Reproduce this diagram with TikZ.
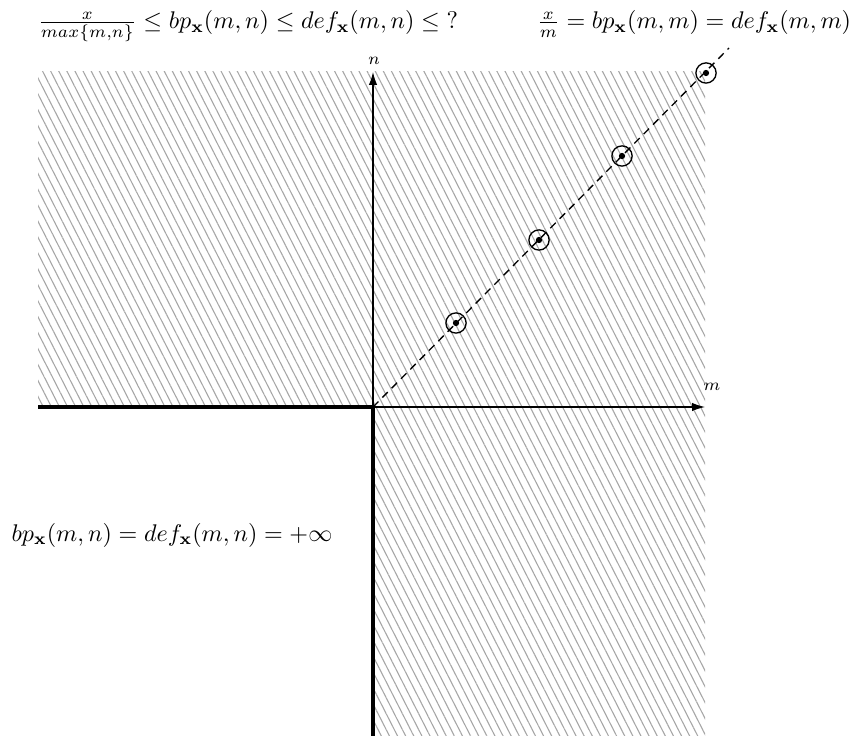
\documentclass[tikz,border=0pt]{standalone}
\usetikzlibrary{patterns.meta,arrows.meta}
\begin{document}
\begin{tikzpicture}[x=0.415pt,y=-0.415pt,
  hatch/.style={pattern={Lines[angle=-63,distance=3.0pt,line width=0.45pt]},pattern color=black!35},
  axis/.style={line width=0.45pt,-{Latex[length=5.3pt,width=3.4pt]}},
  boundary/.style={line width=1.7pt},
  diag/.style={dashed,line width=0.55pt,dash pattern=on 3.2pt off 2.3pt},
  ring/.style={circle,draw,line width=0.55pt,minimum size=8.4pt,inner sep=0pt},
  pt/.style={circle,fill,minimum size=2.6pt,inner sep=0pt}]
\useasboundingbox (0,0) rectangle (852,736);
% hatched regions
\fill[hatch] (38,72) rectangle (705,407);
\fill[hatch] (373,407) rectangle (705,736);
% coordinates
\coordinate (O) at (373,407);
\coordinate (L) at (38,407);
\coordinate (B) at (373,736);
\coordinate (D) at (729,48);
\coordinate (mend) at (705,407);
\coordinate (nend) at (373,72);
% boundary
\draw[boundary] (L) -- (O) -- (B);
% axes
\draw[axis] (O) -- (mend);
\draw[axis] (O) -- (nend);
\node (mlab) at (712,387) {$\scriptstyle m$};
\node (nlab) at (374,61) {$\scriptstyle n$};
% diagonal
\draw[diag] (O) -- (D);
\foreach \i/\x/\y in {1/456/323,2/539/240,3/622/156,4/706/73}{
  \node[ring] (r\i) at (\x,\y) {};
  \node[pt] (p\i) at (\x,\y) {};
}
% labels
\node (t1) at (248,26) {$\frac{x}{max\{m,n\}} \leq bp_{\mathbf{x}}(m,n) \leq def_{\mathbf{x}}(m,n) \leq {?}$};
\node (t2) at (694,24) {$\frac{x}{m} = bp_{\mathbf{x}}(m,m) = def_{\mathbf{x}}(m,m)$};
\node (t3) at (172,535) {$bp_{\mathbf{x}}(m,n) = def_{\mathbf{x}}(m,n) = +\infty$};
\end{tikzpicture}
\end{document}
